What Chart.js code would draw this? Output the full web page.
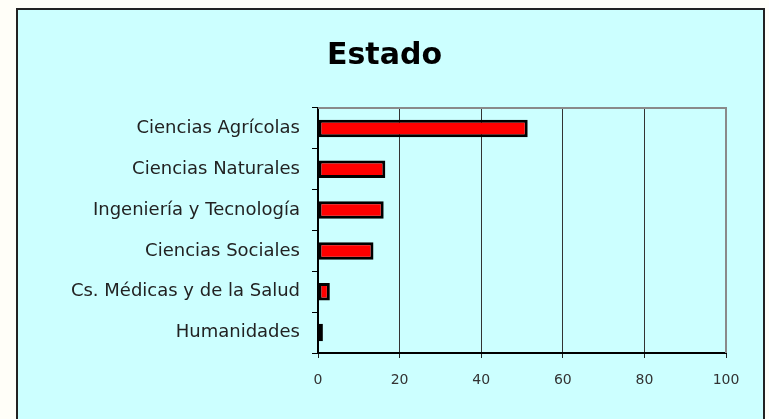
<!DOCTYPE html>
<html>
<head>
<meta charset="utf-8">
<script src="https://cdn.jsdelivr.net/npm/chart.js@4"></script>
<style>
  html, body { margin: 0; padding: 0; }
  body { width: 769px; height: 419px; background: #FFFEF8; position: relative; overflow: hidden; }
  #frame { position: absolute; left: 16px; top: 8px; width: 745px; height: 430px; border: 2px solid #222; background: #CCFFFF; }
  #wrap { position: absolute; left: 0; top: 0; width: 769px; height: 419px; }
</style>
</head>
<body>
<div id="frame"></div>
<div id="wrap"><canvas id="c" width="769" height="419"></canvas></div>
<script>
const titleText = "Estado";
const categories = ["Ciencias Agrícolas", "Ciencias Naturales", "Ingeniería y Tecnología", "Ciencias Sociales", "Cs. Médicas y de la Salud", "Humanidades"];
const values = [51.4, 16.5, 16.1, 13.6, 2.9, 1.2];
const xMin = 0, xMax = 100, xStep = 20;

const plotBorder = {
  id: 'plotBorder',
  afterDatasetsDraw(chart) {
    const {ctx, chartArea: a} = chart;
    ctx.save();
    ctx.strokeStyle = '#8a8a8a';
    ctx.lineWidth = 2;
    ctx.beginPath();
    ctx.moveTo(a.left, a.top);
    ctx.lineTo(a.right, a.top);
    ctx.lineTo(a.right, a.bottom);
    ctx.stroke();
    ctx.restore();
  },
  afterDraw(chart) {
    const ctx = chart.ctx;
    ctx.save();
    ctx.fillStyle = '#000';
    ctx.font = 'bold 30px "DejaVu Sans"';
    ctx.textAlign = 'center';
    ctx.textBaseline = 'alphabetic';
    ctx.fillText(titleText, chart.width / 2, 64);
    ctx.restore();
  }
};

new Chart(document.getElementById('c'), {
  type: 'bar',
  data: {
    labels: categories,
    datasets: [{
      data: values,
      backgroundColor: '#FF0000',
      borderColor: '#000000',
      borderWidth: 3,
      borderSkipped: false,
      barPercentage: 0.43,
      categoryPercentage: 1.0
    }]
  },
  options: {
    indexAxis: 'y',
    responsive: false,
    animation: false,
    devicePixelRatio: 1,
    layout: { padding: { left: 0, right: 43, top: 108, bottom: 0 } },
    plugins: {
      legend: { display: false },
      tooltip: { enabled: false },
      title: { display: false }
    },
    scales: {
      x: {
        type: 'linear',
        min: xMin, max: xMax,
        ticks: { stepSize: xStep, color: '#333', padding: 14, font: { family: 'DejaVu Sans', size: 14 } },
        grid: {
          color: (c) => (c.tick && c.tick.value === xMax) ? '#8a8a8a' : '#333',
          tickColor: '#222',
          lineWidth: 1,
          tickLength: 5
        },
        border: { display: true, color: '#000', width: 2 },
        afterFit(s) { s.height = 66; }
      },
      y: {
        type: 'category',
        ticks: { color: '#222', padding: 12, font: { family: 'DejaVu Sans', size: 18 } },
        grid: { offset: true, drawOnChartArea: false, color: '#000', tickLength: 6, lineWidth: 1 },
        border: { display: true, color: '#000', width: 2 },
        afterFit(s) { s.width = 318; }
      }
    }
  },
  plugins: [plotBorder]
});
</script>
</body>
</html>
